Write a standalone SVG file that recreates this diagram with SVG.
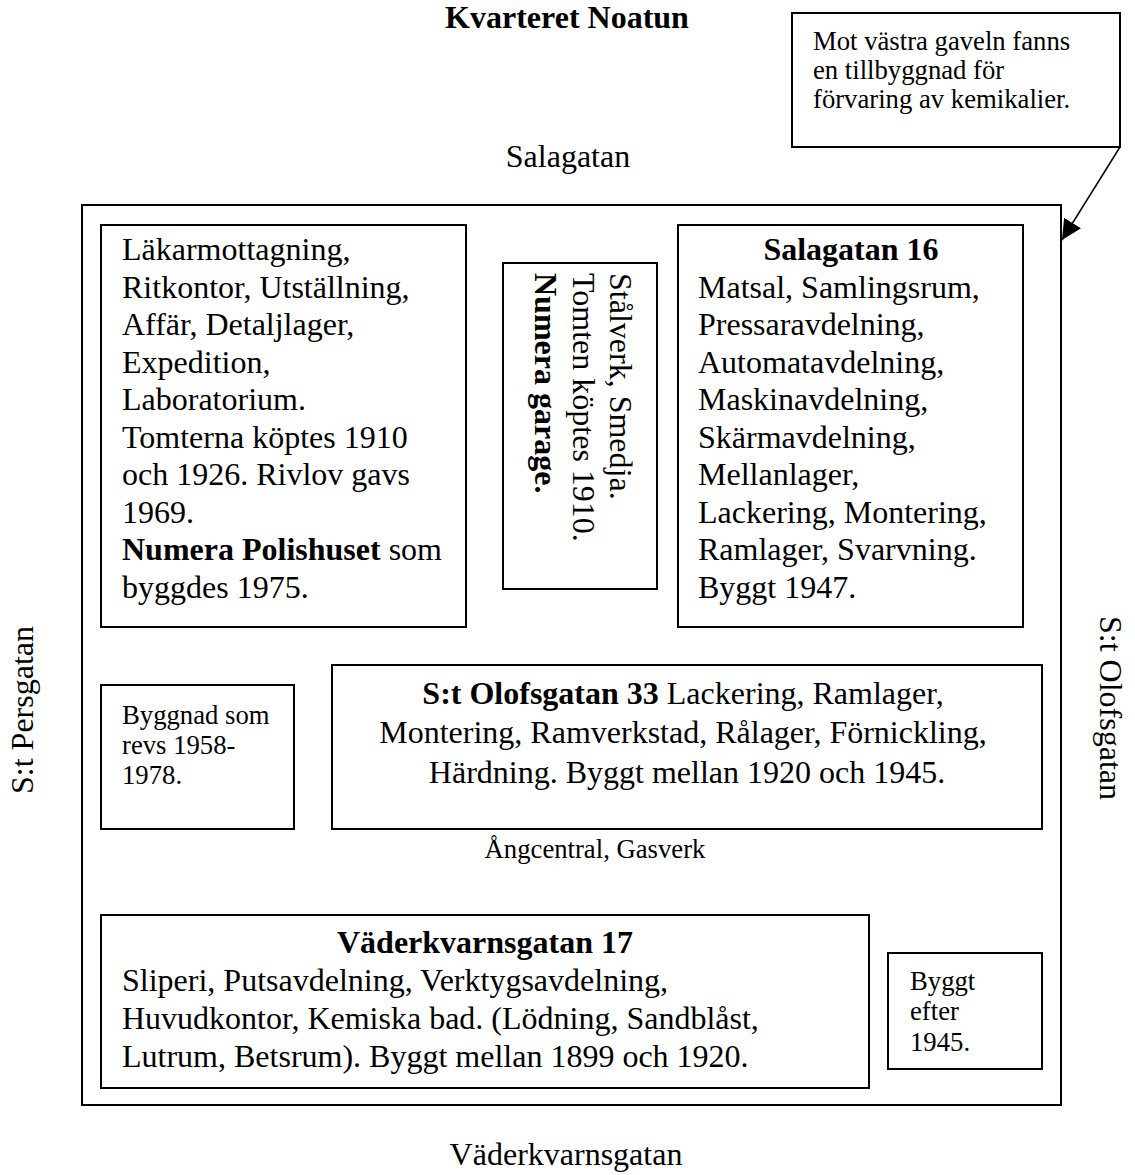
<svg xmlns="http://www.w3.org/2000/svg" width="1135" height="1175" viewBox="0 0 1135 1175">
<style>
.t{font-family:"Liberation Serif","Times New Roman",serif;fill:#000}
.l{font-size:32px}
.s{font-size:26.7px}
.b{font-weight:bold}
.m{text-anchor:middle}
.box{fill:#fff;stroke:#000;stroke-width:2}
.con{fill:none;stroke:#000;stroke-width:1.5}
</style>
<defs>
<marker id="arr" markerUnits="userSpaceOnUse" markerWidth="20" markerHeight="20" refX="20" refY="10" orient="auto">
<path d="M0,0 L20,10 L0,20 z" fill="#000"/>
</marker>
</defs>
<rect width="1135" height="1175" fill="#fff"/>

<g id="title"><text class="t l b m" x="567" y="28">Kvarteret Noatun</text></g>

<g id="streets">
<text class="t l m" x="568" y="167">Salagatan</text>
<text class="t l m" x="566" y="1165">Väderkvarnsgatan</text>
<text class="t l m" transform="translate(33,710) rotate(-90)">S:t Persgatan</text>
<text class="t l m" transform="translate(1100,708) rotate(90)">S:t Olofsgatan</text>
</g>

<g id="kvarter"><rect class="box" x="82" y="205" width="979" height="900"/></g>

<g id="callout">
<rect class="box" x="792" y="13" width="328" height="134"/>
<text class="t s"><tspan x="813" y="50">Mot västra gaveln fanns</tspan><tspan x="813" y="79">en tillbyggnad för</tspan><tspan x="813" y="108">förvaring av kemikalier.</tspan></text>
</g>

<g id="polishuset">
<rect class="box" x="101" y="225" width="365" height="402"/>
<text class="t l">
<tspan x="122" y="260">Läkarmottagning,</tspan>
<tspan x="122" y="298">Ritkontor, Utställning,</tspan>
<tspan x="122" y="335">Affär, Detaljlager,</tspan>
<tspan x="122" y="373">Expedition,</tspan>
<tspan x="122" y="410">Laboratorium.</tspan>
<tspan x="122" y="448">Tomterna köptes 1910</tspan>
<tspan x="122" y="485">och 1926. Rivlov gavs</tspan>
<tspan x="122" y="523">1969.</tspan>
<tspan x="122" y="560"><tspan class="b">Numera Polishuset</tspan> som</tspan>
<tspan x="122" y="598">byggdes 1975.</tspan>
</text>
</g>

<g id="stalverk">
<rect class="box" x="503" y="263" width="154" height="326"/>
<text class="t l" transform="translate(610,273) rotate(90)">Stålverk, Smedja.</text>
<text class="t l" transform="translate(573,273) rotate(90)">Tomten köptes 1910.</text>
<text class="t l b" transform="translate(535,273) rotate(90)">Numera garage.</text>
</g>

<g id="salagatan16">
<rect class="box" x="678" y="225" width="345" height="402"/>
<text class="t l b m" x="851" y="260">Salagatan 16</text>
<text class="t l">
<tspan x="698" y="298">Matsal, Samlingsrum,</tspan>
<tspan x="698" y="335">Pressaravdelning,</tspan>
<tspan x="698" y="373">Automatavdelning,</tspan>
<tspan x="698" y="410">Maskinavdelning,</tspan>
<tspan x="698" y="448">Skärmavdelning,</tspan>
<tspan x="698" y="485">Mellanlager,</tspan>
<tspan x="698" y="523">Lackering, Montering,</tspan>
<tspan x="698" y="560">Ramlager, Svarvning.</tspan>
<tspan x="698" y="598">Byggt 1947.</tspan>
</text>
</g>

<g id="revs">
<rect class="box" x="101" y="685" width="193" height="144"/>
<text class="t s"><tspan x="122" y="724">Byggnad som</tspan><tspan x="122" y="754">revs 1958-</tspan><tspan x="122" y="784">1978.</tspan></text>
</g>

<g id="olofsgatan33">
<rect class="box" x="332" y="665" width="710" height="164"/>
<text class="t l m">
<tspan x="687" y="704"><tspan class="b">S:t Olofsgatan 33</tspan> Lackering, Ramlager,</tspan>
<tspan x="687" y="743">Montering, Ramverkstad, Rålager, Förnickling,</tspan>
<tspan x="687" y="783">Härdning. Byggt mellan 1920 och 1945.</tspan>
</text>
</g>

<g id="angcentral"><text class="t s m" x="595" y="858">Ångcentral, Gasverk</text></g>

<g id="vaderkvarnsgatan17">
<rect class="box" x="101" y="915" width="768" height="173"/>
<text class="t l b m" x="485" y="953">Väderkvarnsgatan 17</text>
<text class="t l">
<tspan x="122" y="991">Sliperi, Putsavdelning, Verktygsavdelning,</tspan>
<tspan x="122" y="1029">Huvudkontor, Kemiska bad. (Lödning, Sandblåst,</tspan>
<tspan x="122" y="1067">Lutrum, Betsrum). Byggt mellan 1899 och 1920.</tspan>
</text>
</g>

<g id="efter1945">
<rect class="box" x="888" y="953" width="154" height="116"/>
<text class="t s"><tspan x="910" y="990">Byggt</tspan><tspan x="910" y="1020">efter</tspan><tspan x="910" y="1051">1945.</tspan></text>
</g>

<g id="connectors">
<line class="con" x1="1120" y1="147" x2="1062" y2="240" marker-end="url(#arr)"/>
</g>
</svg>
